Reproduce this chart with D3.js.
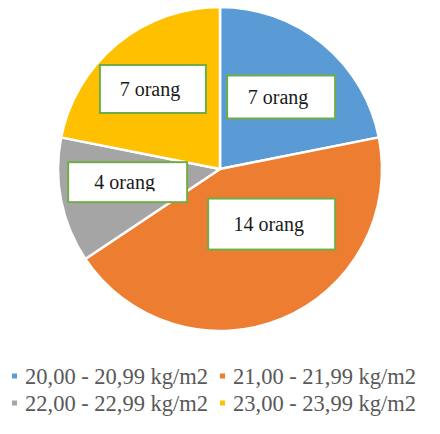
<!DOCTYPE html>
<html>
<head>
<meta charset="utf-8">
<script src="https://cdn.jsdelivr.net/npm/d3@7"></script>
<style>
  body { margin: 0; background: #fff; }
  svg { display: block; }
</style>
</head>
<body>
<svg id="chart"></svg>
<script>
// data
const categories = ['20,00 - 20,99 kg/m2', '21,00 - 21,99 kg/m2', '22,00 - 22,99 kg/m2', '23,00 - 23,99 kg/m2'];
const values = [7, 14, 4, 7];
const labels = ['7 orang', '14 orang', '4 orang', '7 orang'];
const colors = ['#5b9bd5', '#ed7d31', '#a5a5a5', '#ffc000'];

// label boxes: nudge from centroid, and box size
const labelLayout = [
  { dx: 2, dy: 0, w: 108, h: 43 },
  { dx: 16, dy: -31, w: 127, h: 51 },
  { dx: -1, dy: -5, w: 119, h: 40, clip: 29 },
  { dx: -8, dy: -8, w: 106, h: 48 }
];

const serif = "'Liberation Serif', 'Times New Roman', serif";

const drawGraph = () => {
  const width = 440;
  const height = 434;
  const cx = 220, cy = 169, radius = 162;

  const svg = d3.select('#chart')
    .attr('width', width)
    .attr('height', height);

  const pie = d3.pie().sort(null).value((d) => d);
  const arc = d3.arc().innerRadius(0).outerRadius(radius);
  const labelArc = d3.arc().innerRadius(0).outerRadius(radius * 1.15);

  const g = svg.append('g').attr('transform', `translate(${cx}, ${cy})`);

  const arcs = pie(values);

  g.selectAll('path')
    .data(arcs)
    .enter()
    .append('path')
    .attr('d', arc)
    .attr('fill', (d, i) => colors[i])
    .attr('stroke', '#fff')
    .attr('stroke-width', 2.5)
    .attr('stroke-linejoin', 'round');

  // data labels
  const defs = svg.append('defs');
  arcs.forEach((d, i) => {
    const [x0, y0] = labelArc.centroid(d);
    const lay = labelLayout[i];
    const lg = g.append('g').attr('transform', `translate(${x0 + lay.dx}, ${y0 + lay.dy})`);
    lg.append('rect')
      .attr('x', -lay.w / 2)
      .attr('y', -lay.h / 2)
      .attr('width', lay.w)
      .attr('height', lay.h)
      .attr('fill', '#fff')
      .attr('stroke', '#70ad47')
      .attr('stroke-width', 2);
    const t = lg.append('text')
      .attr('x', -3)
      .attr('y', 0)
      .attr('dy', '0.35em')
      .attr('text-anchor', 'middle')
      .style('font-family', serif, 'important')
      .style('font-size', '20px')
      .attr('fill', '#1a1a1a')
      .text(labels[i]);
    if (lay.clip) {
      defs.append('clipPath').attr('id', 'clip' + i)
        .append('rect')
        .attr('x', -lay.w / 2)
        .attr('y', -lay.h / 2)
        .attr('width', lay.w)
        .attr('height', lay.clip);
      t.attr('clip-path', `url(#clip${i})`);
    }
  });

  // legend
  const item = svg.append('g')
    .selectAll('g')
    .data(categories)
    .enter()
    .append('g')
    .attr('transform', (d, i) => `translate(${i % 2 === 0 ? 12 : 220}, ${376 + Math.floor(i / 2) * 27})`);

  item.append('rect')
    .attr('x', 0)
    .attr('y', -2.5)
    .attr('width', 5)
    .attr('height', 5)
    .attr('fill', (d, i) => colors[i]);

  item.append('text')
    .attr('x', 13)
    .attr('y', 0)
    .attr('dy', '0.35em')
    .style('font-family', serif, 'important')
    .style('font-size', '22.5px')
    .attr('fill', '#595959')
    .text((d) => d);
};

drawGraph();
</script>
</body>
</html>
